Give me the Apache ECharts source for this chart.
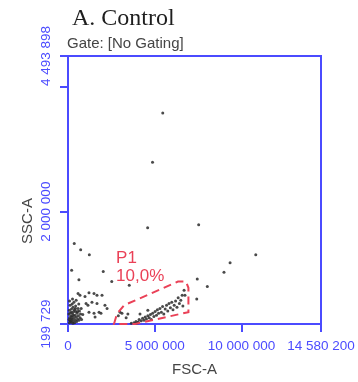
<!DOCTYPE html>
<html>
<head>
<meta charset="utf-8">
<script src="https://cdn.jsdelivr.net/npm/echarts@6/dist/echarts.min.js"></script>
<style>
  html, body { margin: 0; padding: 0; background: #fff; }
  #chart { width: 358px; height: 382px; }
</style>
</head>
<body>
<div id="chart"></div>
<script>
// Axis ranges (raw instrument units)
const fscRange = [0, 14580200];
const sscRange = [199729, 4493898];

// Tick and label positions
const fscTicks = [0, 5000000, 10000000, 14580200];
const sscTicks = [199729, 2000000, 4000000, 4493898];
const sscLabels = [199729, 2000000, 4493898];

// Events, FSC-A / SSC-A in millions
const eventsSparse = [
  [5.46, 3.58], [4.87, 2.79], [4.59, 1.74], [7.53, 1.79], [10.82, 1.31], [9.34, 1.18], [8.99, 1.03],
  [0.36, 1.49], [0.73, 1.39], [1.23, 1.31], [0.21, 1.06], [2.03, 1.04], [2.52, 0.88], [3.53, 0.82],
  [0.63, 0.91], [7.45, 0.92], [8.03, 0.80], [7.42, 0.60], [6.69, 0.74], [6.74, 0.66]
];
const eventsDebris = [
  [0.58, 0.69], [0.69, 0.66], [0.98, 0.64], [1.21, 0.70], [1.50, 0.69], [1.67, 0.66], [1.96, 0.66],
  [1.04, 0.53], [1.15, 0.50], [1.38, 0.55], [1.67, 0.53], [2.13, 0.50], [1.79, 0.39], [1.90, 0.37],
  [2.25, 0.45], [1.21, 0.39], [1.50, 0.37], [1.56, 0.31],
  [0.08, 0.22], [0.12, 0.25], [0.18, 0.23], [0.25, 0.27], [0.30, 0.24], [0.10, 0.30], [0.16, 0.33],
  [0.22, 0.31], [0.35, 0.29], [0.42, 0.26], [0.05, 0.36], [0.14, 0.38], [0.27, 0.36], [0.33, 0.40],
  [0.40, 0.34], [0.48, 0.31], [0.55, 0.28], [0.08, 0.42], [0.20, 0.44], [0.29, 0.47], [0.37, 0.43],
  [0.45, 0.40], [0.52, 0.37], [0.60, 0.33], [0.12, 0.50], [0.24, 0.52], [0.34, 0.55], [0.44, 0.49],
  [0.58, 0.45], [0.66, 0.41], [0.72, 0.36], [0.06, 0.27], [0.19, 0.28], [0.31, 0.33], [0.38, 0.22],
  [0.50, 0.24], [0.63, 0.26], [0.70, 0.30], [0.78, 0.27], [0.85, 0.35], [0.76, 0.45], [0.62, 0.52],
  [0.09, 0.57], [0.26, 0.60], [0.47, 0.58], [0.15, 0.24], [0.28, 0.21], [0.43, 0.45], [0.21, 0.39],
  [0.56, 0.40]
];
const eventsP1 = [
  [3.65, 0.21], [3.80, 0.22], [3.90, 0.21], [4.00, 0.215], [3.92, 0.24], [4.05, 0.23], [4.10, 0.27],
  [4.22, 0.25], [4.30, 0.29], [4.38, 0.26], [4.45, 0.31], [4.52, 0.28], [4.60, 0.33], [4.68, 0.30],
  [4.75, 0.35], [4.80, 0.27], [4.88, 0.37], [4.95, 0.32], [5.02, 0.40], [5.10, 0.34], [5.15, 0.43],
  [5.22, 0.37], [5.30, 0.45], [5.38, 0.39], [5.45, 0.48], [5.52, 0.36], [5.60, 0.44], [5.68, 0.50],
  [5.75, 0.41], [5.82, 0.53], [5.90, 0.46], [5.98, 0.55], [6.05, 0.43], [6.12, 0.50], [6.20, 0.57],
  [6.28, 0.47], [6.35, 0.62], [6.42, 0.53], [6.50, 0.58], [6.58, 0.66], [6.62, 0.49], [4.15, 0.36],
  [4.60, 0.42], [3.35, 0.30], [3.45, 0.36], [2.90, 0.33], [3.11, 0.37], [3.00, 0.39]
];

// P1 gate outline vertices, millions
const gateFsc = [2.65, 2.82, 3.23, 6.34, 6.80, 6.94, 6.94, 6.46, 3.86];
const gateSsc = [0.20, 0.36, 0.50, 0.88, 0.88, 0.78, 0.39, 0.36, 0.20];
const gateName = 'P1';
const gatePercent = '10,0%';

const M = 1e6;
const toRaw = (pts) => pts.map(p => [p[0] * M, p[1] * M]);
const allEvents = toRaw(eventsSparse.concat(eventsDebris, eventsP1));

const BLUE = '#4b4bff';
const RED = '#ea4157';
const spaced = v => String(Math.round(v)).replace(/\B(?=(\d{3})+(?!\d))/g, ' ');

const chart = echarts.init(document.getElementById('chart'), null, { renderer: 'canvas' });

chart.setOption({
  animation: false,
  backgroundColor: '#fff',
  title: [
    {
      text: 'A. Control', left: 72, top: 7, padding: 0,
      textStyle: { fontFamily: 'Liberation Serif', fontSize: 24, fontWeight: 'normal', color: '#1e1e1e' }
    },
    {
      text: 'Gate: [No Gating]', left: 67, top: 36, padding: 0,
      textStyle: { fontFamily: 'Liberation Sans', fontSize: 15, fontWeight: 'normal', color: '#454545' }
    }
  ],
  grid: {
    left: 68, right: 37, top: 56, bottom: 53,
    show: true, borderColor: BLUE, borderWidth: 2, backgroundColor: '#fff'
  },
  xAxis: {
    type: 'value', min: fscRange[0], max: fscRange[1],
    name: 'FSC-A', nameLocation: 'middle', nameGap: 38,
    nameTextStyle: { fontFamily: 'Liberation Sans', fontSize: 15, color: '#454545' },
    axisLine: { show: true, onZero: false, lineStyle: { color: BLUE, width: 2 } },
    axisTick: { show: true, customValues: fscTicks, length: 8, lineStyle: { color: BLUE, width: 2 } },
    axisLabel: {
      customValues: fscTicks, margin: 15, formatter: spaced, hideOverlap: false,
      fontFamily: 'Liberation Sans', fontSize: 13.5, color: BLUE
    },
    splitLine: { show: false }
  },
  yAxis: {
    type: 'value', min: sscRange[0], max: sscRange[1],
    axisLine: { show: true, onZero: false, lineStyle: { color: BLUE, width: 2 } },
    axisTick: { show: true, customValues: sscTicks, length: 8, lineStyle: { color: BLUE, width: 2 } },
    axisLabel: {
      customValues: sscLabels, rotate: 90, margin: 15, formatter: spaced, hideOverlap: false,
      fontFamily: 'Liberation Sans', fontSize: 13.5, color: BLUE
    },
    splitLine: { show: false }
  },
  graphic: [
    {
      type: 'text', x: 28, y: 221, rotation: Math.PI / 2,
      style: { text: 'SSC-A', font: '15px "Liberation Sans"', fill: '#454545', align: 'center', verticalAlign: 'middle' }
    }
  ],
  series: [
    {
      type: 'scatter',
      data: allEvents,
      symbol: 'circle',
      symbolSize: 3,
      itemStyle: { color: '#2a2a2a', opacity: 0.85 },
      silent: true,
      z: 3
    },
    {
      type: 'custom',
      data: [[0, 0]],
      silent: true,
      z: 4,
      renderItem: function (params, api) {
        const pts = gateFsc.map((x, i) => api.coord([x * M, gateSsc[i] * M]));
        const labelAt = api.coord([2.77 * M, 1.39 * M]);
        return {
          type: 'group',
          children: [
            {
              type: 'polygon',
              shape: { points: pts },
              style: { fill: 'none', stroke: RED, lineWidth: 2, lineDash: [8, 5] }
            },
            {
              type: 'text', x: labelAt[0], y: labelAt[1],
              style: {
                text: gateName + '\n' + gatePercent,
                font: '17px "Liberation Sans"', lineHeight: 18,
                fill: RED, align: 'left', verticalAlign: 'top'
              }
            }
          ]
        };
      }
    }
  ]
});
</script>
</body>
</html>
